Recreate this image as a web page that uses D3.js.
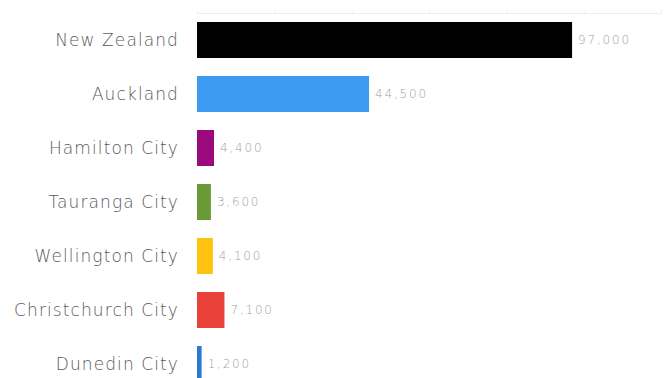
<!DOCTYPE html>
<html>
<head>
<meta charset="utf-8">
<script src="https://cdn.jsdelivr.net/npm/d3@7/dist/d3.min.js"></script>
<style>
  html, body { margin: 0; padding: 0; background: #fff; }
  svg { display: block; }
  .cat { font-family: "DejaVu Sans", sans-serif; font-weight: 200; font-size: 17px; letter-spacing: 1.1px; fill: #5a5a5a; }
  .val { font-family: "DejaVu Sans", sans-serif; font-weight: 200; font-size: 12px; letter-spacing: 1.8px; fill: #a0a0a0; }
</style>
</head>
<body>
<script>
// Population figures by area
const categories = ["New Zealand", "Auckland", "Hamilton City", "Tauranga City", "Wellington City", "Christchurch City", "Dunedin City"];
const values = [97000, 44500, 4400, 3600, 4100, 7100, 1200];
const colors = ["#000000", "#3d9cf2", "#9b0a7d", "#6a9a36", "#ffc20e", "#e8413a", "#2a7bd0"];
const tickValues = [0, 20000, 40000, 60000, 80000, 100000, 120000];

const W = 670, H = 378;
const svg = d3.select("body").append("svg").attr("width", W).attr("height", H);

const x = d3.scaleLinear().domain([0, 120000]).range([197, 661]);
const y = d3.scaleBand().domain(categories).range([13, 13 + 54 * categories.length])
  .paddingInner(1 / 3).paddingOuter(1 / 6);

// faint top axis
const axis = svg.append("g").attr("transform", "translate(0,13)")
  .call(d3.axisTop(x).tickValues(tickValues).tickSize(3).tickFormat(""));
axis.select(".domain").attr("stroke", "#ececec");
axis.selectAll(".tick line").attr("stroke", "#efefef");

// bars
svg.append("g").selectAll("rect").data(categories).join("rect")
  .attr("x", x(0))
  .attr("y", d => y(d))
  .attr("width", (d, i) => x(values[i]) - x(0))
  .attr("height", y.bandwidth())
  .attr("fill", (d, i) => colors[i]);

// category labels
svg.append("g").selectAll("text").data(categories).join("text")
  .attr("class", "cat")
  .attr("x", 179)
  .attr("y", d => y(d) + y.bandwidth() / 2)
  .attr("dy", "0.35em")
  .attr("text-anchor", "end")
  .text(d => d);

// value labels
svg.append("g").selectAll("text").data(categories).join("text")
  .attr("class", "val")
  .attr("x", (d, i) => x(values[i]) + 6)
  .attr("y", d => y(d) + y.bandwidth() / 2)
  .attr("dy", "0.35em")
  .text((d, i) => d3.format(",")(values[i]));
</script>
</body>
</html>
